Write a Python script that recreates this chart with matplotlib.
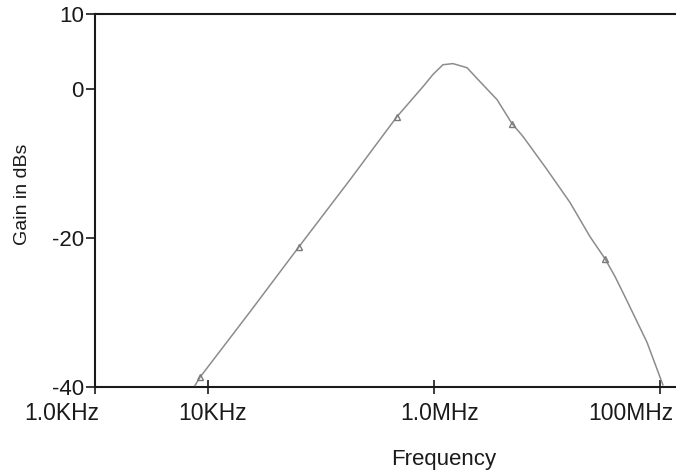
import numpy as np
import matplotlib
matplotlib.use('Agg')
import matplotlib.pyplot as plt
import matplotlib.transforms as mtransforms

plt.rcParams['font.family'] = ['Liberation Sans', 'DejaVu Sans']

# frequency response (Hz, dB)
freq = [7.67e3, 8.49e3, 23.6e3, 63.8e3, 181e3, 333e3, 471e3, 800e3, 0.98e6,
        1.20e6, 1.47e6, 1.96e6, 2.55e6, 3.61e6, 4.90e6, 6.14e6, 10.0e6,
        16.0e6, 24.0e6, 32.6e6, 40.0e6, 49.0e6, 76.7e6, 106e6]
gain = [-39.8, -38.7, -29.9, -21.2, -12.2, -6.8, -3.75, 0.27, 1.9,
        3.2, 3.35, 2.8, 0.94, -1.47, -4.69, -6.43, -10.85,
        -15.28, -19.84, -22.8, -25.2, -27.9, -34.0, -39.7]

# marker positions on the trace
mark_freq = [8.49e3, 63.8e3, 471e3, 4.90e6, 32.6e6]
mark_gain = [-38.7, -21.2, -3.75, -4.69, -22.8]

xticks = [1e3, 1e4, 1e6, 1e8]
xticklabels = ['1.0KHz', '10KHz', '1.0MHz', '100MHz']
yticks = [10, 0, -20, -40]
yticklabels = ['10', '0', '-20', '-40']

fig = plt.figure(figsize=(6.76, 4.71), dpi=100)
ax = fig.add_axes([95 / 676, 1 - 387 / 471, 581 / 676, 373 / 471])

ax.plot(freq, gain, color='#8c8c8c', lw=1.1, zorder=3)
ax.plot(mark_freq, mark_gain, ls='none', marker='^', ms=5,
        mfc='none', mec='#7a7a7a', mew=1.0, zorder=4)

ax.set_xscale('log')
ax.set_xlim(1e3, 10 ** (3 + 581 / 113))
ax.set_ylim(-40, 10)

ax.set_xticks(xticks)
ax.set_xticklabels(xticklabels)
ax.xaxis.set_minor_locator(matplotlib.ticker.NullLocator())
ax.set_yticks(yticks)
ax.set_yticklabels(yticklabels)

ax.tick_params(axis='x', direction='inout', length=10, width=1.2,
               colors='#1a1a1a', labelsize=16.5, pad=6)
ax.tick_params(axis='y', direction='out', length=6.5, width=1.2,
               colors='#1a1a1a', labelsize=16, pad=1.5)

# labels at the ends are pulled inward like in the original
shifts = [-33, 5, 6, -29]
for lab, dx in zip(ax.get_xticklabels(), shifts):
    off = mtransforms.ScaledTranslation(dx / 100, 0, fig.dpi_scale_trans)
    lab.set_transform(lab.get_transform() + off)

for side in ['left', 'top', 'bottom']:
    ax.spines[side].set_linewidth(1.5)
    ax.spines[side].set_color('#1a1a1a')
ax.spines['right'].set_visible(False)

ax.set_xlabel('Frequency', fontsize=16, color='#1a1a1a')
ax.xaxis.set_label_coords(0.60, -0.165)
ax.set_ylabel('Gain in dBs', fontsize=14, color='#1a1a1a')
ax.yaxis.set_label_coords(-0.11, 0.517)

fig.savefig('out.png', dpi=100)
